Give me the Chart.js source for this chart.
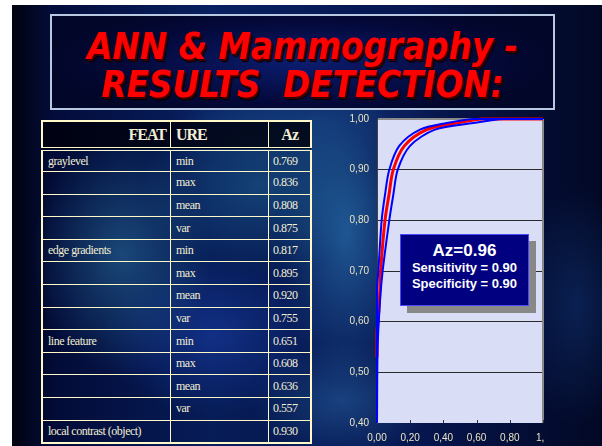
<!DOCTYPE html>
<html>
<head>
<meta charset="utf-8">
<script src="https://cdn.jsdelivr.net/npm/chart.js@4"></script>
<style>
  html, body { margin: 0; padding: 0; }
  body { width: 602px; height: 446px; background: #fff; position: relative; overflow: hidden; }
  #slide {
    position: absolute; left: 12px; top: 5px; width: 590px; height: 441px;
    background:
      radial-gradient(ellipse 90px 120px at 110px 250px, rgba(50,130,180,0.55), transparent),
      radial-gradient(ellipse 120px 90px at 250px 180px, rgba(40,120,170,0.5), transparent),
      radial-gradient(ellipse 70px 150px at 335px 230px, rgba(40,110,170,0.7), transparent),
      radial-gradient(ellipse 110px 80px at 200px 330px, rgba(30,70,190,0.55), transparent),
      radial-gradient(ellipse 90px 60px at 330px 395px, rgba(40,100,160,0.55), transparent),
      radial-gradient(ellipse 60px 120px at 565px 300px, rgba(20,60,130,0.45), transparent),
      radial-gradient(ellipse 140px 60px at 300px 112px, rgba(30,80,150,0.45), transparent),
      linear-gradient(90deg, #01030f 0px, #030c3a 40px, #082060 200px, #061650 400px, #020824 590px);
  }
  #titleBox {
    position: absolute; left: 50px; top: 14px; width: 501px; height: 92px;
    border: 2px solid #b8c8e0;
    background: radial-gradient(ellipse 260px 60px at 50% 50%, #0c1d70, #030838 70%, #020628);
    text-align: center;
  }
  #titleBox div {
    font-family: "DejaVu Sans", sans-serif; font-weight: bold; font-style: italic;
    color: #ff0000; font-size: 38px; line-height: 38px;
    text-shadow: 2px 2px 0 #3a0000, 3px 3px 1px #000;
    white-space: pre; transform: scaleX(0.86); transform-origin: 50% 50%;
  }
  #tbl {
    position: absolute; left: 41px; top: 120px; width: 271px;
    border-collapse: collapse; border: 2px solid #fff8c8;
    font-family: "Liberation Serif", serif; color: #f2eed4;
  }
  #tbl td, #tbl th { border: 1.5px solid #fff8c8; padding: 0; font-size: 12px; letter-spacing: -0.5px; }
  #tbl tr.r { height: 22.6px; }
  #tbl th { height: 25px; font-size: 16px; letter-spacing: -1px; background: rgba(0,0,10,0.8); border-bottom: 4px double #fff8c8; }
  #tbl td { background: rgba(0,5,30,0.12); }
  #tbl td.c1 { padding-left: 5px; width: 122px; }
  #tbl td.c2 { padding-left: 5px; width: 92px; }
  #tbl td.c3 { padding-left: 4px; }
  #chartWrap { position: absolute; left: 320px; top: 105px; width: 240px; height: 341px; }
  #shadow { position: absolute; left: 407px; top: 241px; width: 129px; height: 72px; background: #888; }
  #azBox {
    position: absolute; left: 400px; top: 234px; width: 127px; height: 70px;
    background: #000080; border: 1px solid #4a4aff; color: #fff;
    font-family: "Liberation Sans", Arial, sans-serif; font-weight: bold; text-align: center;
  }
  #azBox .big { font-size: 17px; margin-top: 7px; line-height: 18px; }
  #azBox .small { font-size: 13px; line-height: 16px; }
</style>
</head>
<body>
<div id="slide"></div>
<div id="titleBox">
  <div style="margin-top:11px">ANN &amp; Mammography -</div>
  <div>RESULTS  DETECTION:</div>
</div>
<table id="tbl"></table>
<div id="chartWrap"><canvas id="rocChart"></canvas></div>
<div id="shadow"></div>
<div id="azBox">
  <div class="big">Az=0.96</div>
  <div class="small">Sensitivity = 0.90</div>
  <div class="small">Specificity = 0.90</div>
</div>
<script>
// Table data
const headerCells = ['FEAT', 'URE', 'Az'];
const featureNames = ['graylevel', '', '', '', 'edge gradients', '', '', '', 'line feature', '', '', '', 'local contrast (object)'];
const statNames = ['min', 'max', 'mean', 'var', 'min', 'max', 'mean', 'var', 'min', 'max', 'mean', 'var', ''];
const azValues = ['0.769', '0.836', '0.808', '0.875', '0.817', '0.895', '0.920', '0.755', '0.651', '0.608', '0.636', '0.557', '0.930'];

// ROC curve data (false positive fraction / true positive fraction)
const rocFpr = [0, 0, 0.006, 0.014, 0.022, 0.048, 0.072, 0.098, 0.165, 0.30, 0.48, 0.64, 1.0];
const rocTpr = [0.53, 0.58, 0.60, 0.64, 0.70, 0.80, 0.85, 0.90, 0.947, 0.979, 0.992, 1.0, 1.0];
const upperFpr = [0, 0, 0.008, 0.028, 0.048, 0.074, 0.134, 0.259, 0.42, 0.58, 1.0];
const upperTpr = [0.40, 0.66, 0.70, 0.80, 0.85, 0.90, 0.947, 0.979, 0.992, 1.0, 1.0];
const lowerFpr = [0, 0.004, 0.018, 0.034, 0.074, 0.098, 0.125, 0.199, 0.349, 0.58, 0.76, 1.0];
const lowerTpr = [0.40, 0.55, 0.64, 0.70, 0.80, 0.85, 0.90, 0.947, 0.979, 0.992, 1.0, 1.0];

// Axis ticks (last x label is cut off in the original slide)
const xTickValues = [0, 0.2, 0.4, 0.6, 0.8, 1.0];
const xTickLabels = ['0,00', '0,20', '0,40', '0,60', '0,80', '1,  '];
const yTickValues = [0.4, 0.5, 0.6, 0.7, 0.8, 0.9, 1.0];
const yTickLabels = ['0,40', '0,50', '0,60', '0,70', '0,80', '0,90', '1,00'];

const RED = '#ff0000';
const BLUE = '#0000ff';
const LABEL_COLOR = '#ebe4c2';

// Build the table
function buildTable() {
    const tbl = document.getElementById('tbl');
    let html = '<tr><th style="text-align:right;padding-right:4px">' + headerCells[0] +
        '</th><th style="text-align:left;padding-left:5px">' + headerCells[1] +
        '</th><th style="text-align:right;padding-right:12px">' + headerCells[2] + '</th></tr>';
    featureNames.forEach((name, i) => {
        html += '<tr class="r"><td class="c1">' + name + '</td><td class="c2">' + statNames[i] +
            '</td><td class="c3">' + azValues[i] + '</td></tr>';
    });
    tbl.innerHTML = html;
}

function toPoints(xs, ys) {
    return xs.map((x, i) => ({ x: x, y: ys[i] }));
}

// Plot area background, borders and inner x ticks
const plotDecor = {
    id: 'plotDecor',
    beforeDraw(chart) {
        const { ctx, chartArea: a } = chart;
        ctx.save();
        ctx.fillStyle = '#d9def6';
        ctx.fillRect(a.left, a.top, a.right - a.left, a.bottom - a.top);
        ctx.restore();
    },
    beforeDatasetsDraw(chart) {
        const { ctx, chartArea: a } = chart;
        const xs = chart.scales.x;
        ctx.save();
        ctx.strokeStyle = '#8a8a8a';
        ctx.lineWidth = 2;
        ctx.beginPath();
        ctx.moveTo(a.right, a.top);
        ctx.lineTo(a.right, a.bottom);
        ctx.stroke();
        ctx.strokeStyle = '#333';
        ctx.lineWidth = 1;
        xTickValues.forEach(v => {
            const px = Math.round(xs.getPixelForValue(v)) + 0.5;
            ctx.beginPath();
            ctx.moveTo(px, a.bottom);
            ctx.lineTo(px, a.bottom - 3);
            ctx.stroke();
        });
        ctx.restore();
    }
};

function createRocChart() {
    const ctx = document.getElementById('rocChart').getContext('2d');
    return new Chart(ctx, {
        type: 'scatter',
        data: {
            datasets: [{
                data: toPoints(lowerFpr, lowerTpr),
                borderColor: BLUE,
                borderWidth: 2,
                showLine: true,
                pointRadius: 0,
                tension: 0.3,
                clip: 4
            }, {
                data: toPoints(upperFpr, upperTpr),
                borderColor: BLUE,
                borderWidth: 2,
                showLine: true,
                pointRadius: 0,
                tension: 0.3,
                clip: 4
            }, {
                data: toPoints(rocFpr, rocTpr),
                borderColor: RED,
                borderWidth: 3,
                showLine: true,
                pointRadius: 0,
                tension: 0.3,
                clip: 4
            }]
        },
        options: {
            responsive: false,
            animation: false,
            events: [],
            layout: { padding: { left: 0, top: 11, right: 17, bottom: 0 } },
            plugins: { legend: { display: false }, tooltip: { enabled: false } },
            scales: {
                x: {
                    type: 'linear',
                    min: 0,
                    max: 1,
                    afterBuildTicks: s => { s.ticks = xTickValues.map(v => ({ value: v })); },
                    afterFit: s => { s.height = 23; },
                    grid: { display: false, drawTicks: false },
                    border: { display: false },
                    ticks: {
                        color: LABEL_COLOR,
                        font: { family: 'Liberation Sans, Arial', size: 10 },
                        padding: 9,
                        maxRotation: 0,
                        autoSkip: false,
                        callback: (v, i) => xTickLabels[i]
                    }
                },
                y: {
                    min: 0.4,
                    max: 1.0,
                    afterBuildTicks: s => { s.ticks = yTickValues.map(v => ({ value: v })); },
                    afterFit: s => { s.width = 57; },
                    grid: {
                        drawTicks: false,
                        color: c => c.index === 0 ? 'rgba(0,0,0,0)' : (c.index === yTickValues.length - 1 ? '#8a8a8a' : '#2a2a2a'),
                        lineWidth: c => c.index === yTickValues.length - 1 ? 2 : 1
                    },
                    border: { color: '#444', width: 1 },
                    ticks: {
                        color: LABEL_COLOR,
                        font: { family: 'Liberation Sans, Arial', size: 10 },
                        padding: 8,
                        callback: (v, i) => yTickLabels[i]
                    }
                }
            }
        },
        plugins: [plotDecor]
    });
}

buildTable();
const canvas = document.getElementById('rocChart');
canvas.width = 240;
canvas.height = 341;
createRocChart();
</script>
</body>
</html>
